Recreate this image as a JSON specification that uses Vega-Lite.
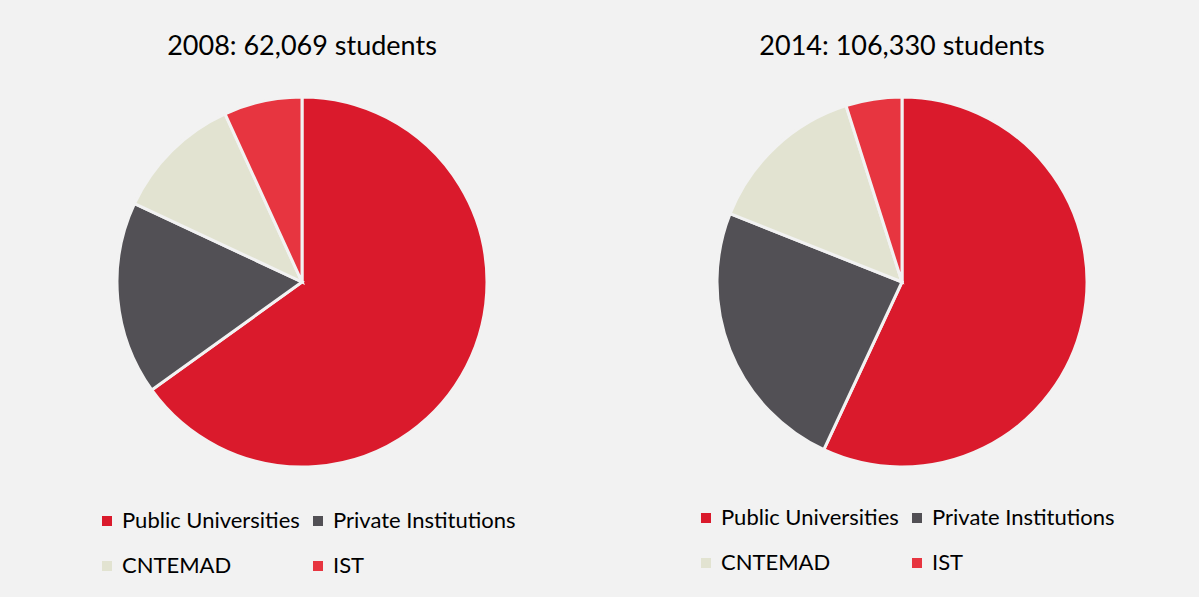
{
  "$schema": "https://vega.github.io/schema/vega-lite/v6.json",
  "background": "#f2f2f2",
  "padding": {"left": 5, "top": 33, "right": 0, "bottom": 22},
  "spacing": 6,
  "datasets": {
    "y2008": [
      {"sector": "Public Universities", "rank": 1, "students": 40400},
      {"sector": "Private Institutions", "rank": 2, "students": 10480},
      {"sector": "CNTEMAD", "rank": 3, "students": 6950},
      {"sector": "IST", "rank": 4, "students": 4240}
    ],
    "y2014": [
      {"sector": "Public Universities", "rank": 1, "students": 60550},
      {"sector": "Private Institutions", "rank": 2, "students": 25600},
      {"sector": "CNTEMAD", "rank": 3, "students": 14980},
      {"sector": "IST", "rank": 4, "students": 5200}
    ]
  },
  "resolve": {"legend": {"color": "independent"}},
  "hconcat": [
    {
      "width": 594,
      "height": 370,
      "title": {"text": "2008: 62,069 students"},
      "data": {"name": "y2008"},
      "mark": {"type": "arc", "outerRadius": 185, "stroke": "#f2f2f2", "strokeWidth": 3},
      "encoding": {
        "theta": {"field": "students", "type": "quantitative", "stack": true},
        "order": {"field": "rank", "type": "quantitative"},
        "color": {
          "field": "sector",
          "type": "nominal",
          "scale": {
            "domain": ["Public Universities", "Private Institutions", "CNTEMAD", "IST"],
            "range": ["#da1a2c", "#525055", "#e2e3d1", "#e73540"]
          },
          "legend": {"orient": "none", "legendX": 91, "legendY": 413}
        }
      }
    },
    {
      "width": 594,
      "height": 370,
      "title": {"text": "2014: 106,330 students"},
      "data": {"name": "y2014"},
      "mark": {"type": "arc", "outerRadius": 185, "stroke": "#f2f2f2", "strokeWidth": 3},
      "encoding": {
        "theta": {"field": "students", "type": "quantitative", "stack": true},
        "order": {"field": "rank", "type": "quantitative"},
        "color": {
          "field": "sector",
          "type": "nominal",
          "scale": {
            "domain": ["Public Universities", "Private Institutions", "CNTEMAD", "IST"],
            "range": ["#da1a2c", "#525055", "#e2e3d1", "#e73540"]
          },
          "legend": {"orient": "none", "legendX": 90, "legendY": 410}
        }
      }
    }
  ],
  "config": {
    "font": "Lato",
    "view": {"stroke": null},
    "title": {"fontSize": 27, "fontWeight": "normal", "color": "#000000", "offset": 30, "anchor": "middle", "font": "Lato"},
    "legend": {
      "title": null,
      "columns": 2,
      "direction": "horizontal",
      "symbolType": "square",
      "symbolSize": 100,
      "symbolStrokeWidth": 0,
      "labelFont": "Lato",
      "labelFontSize": 22,
      "labelColor": "#000000",
      "labelOffset": 4,
      "rowPadding": 23,
      "columnPadding": 7,
      "labelLimit": 400
    }
  }
}
